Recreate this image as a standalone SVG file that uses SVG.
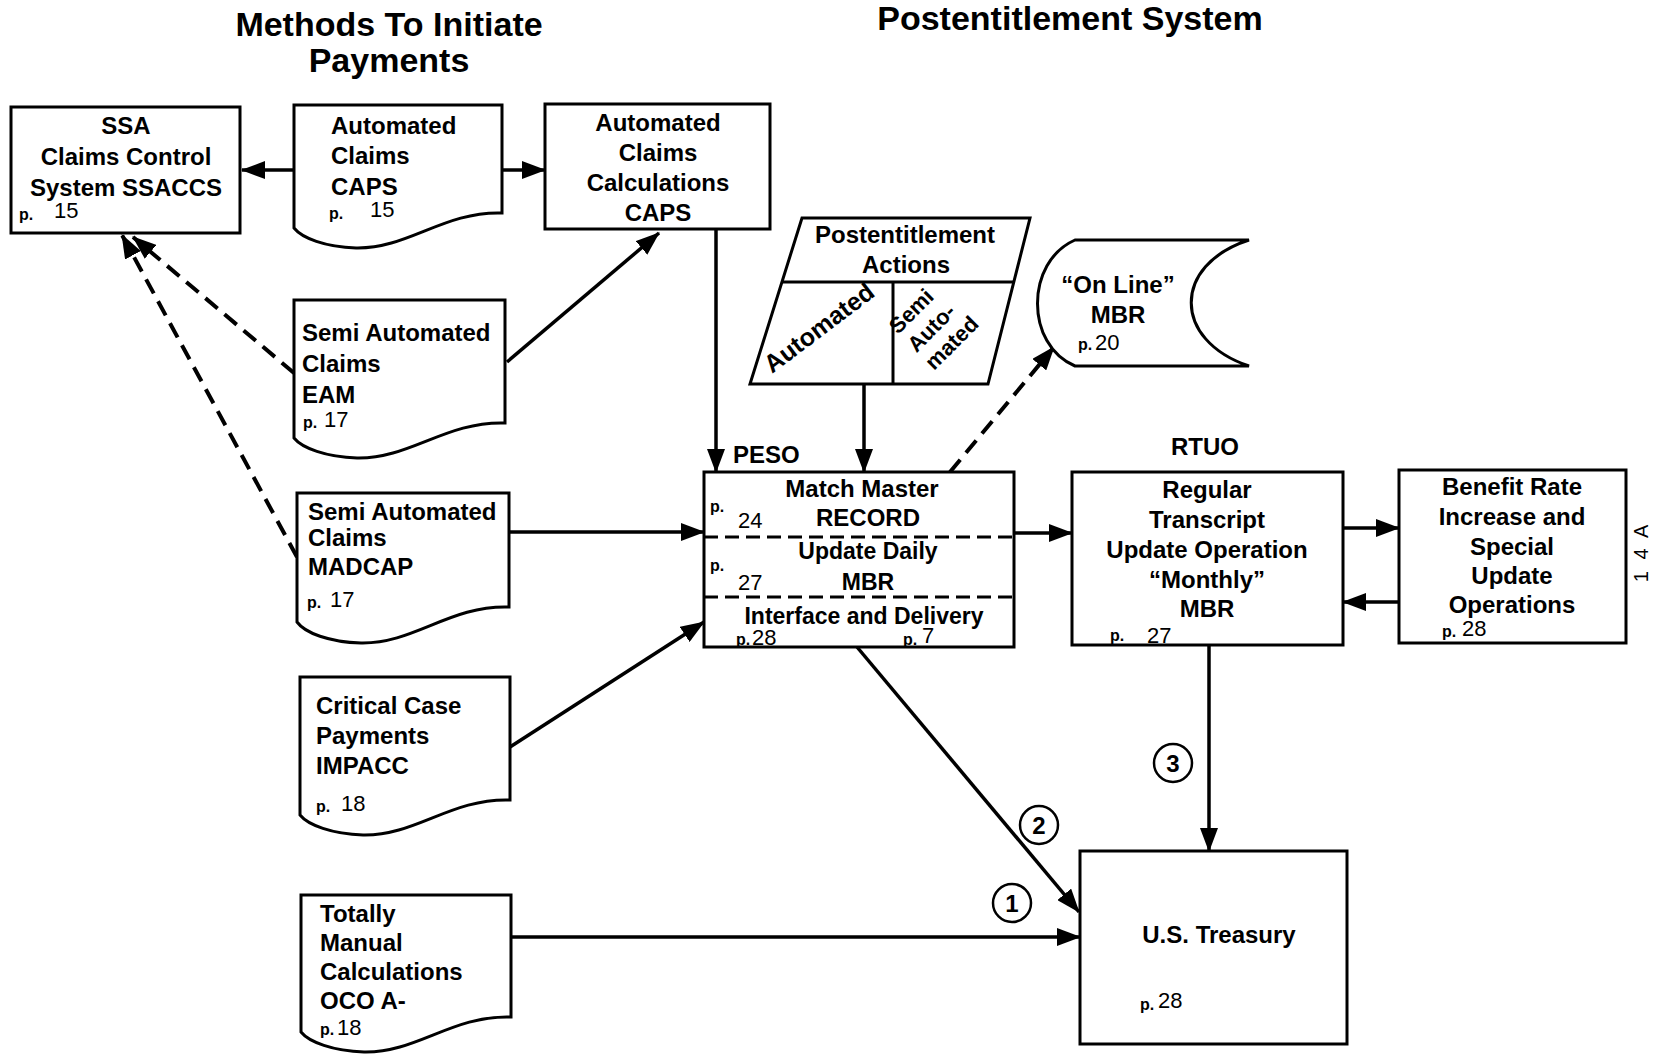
<svg xmlns="http://www.w3.org/2000/svg" width="1663" height="1055" viewBox="0 0 1663 1055">
<style>
  .bg{fill:#fff}
  .box{fill:#fff;stroke:#000;stroke-width:3}
  .t{font-family:"Liberation Sans",Arial,sans-serif;font-weight:bold;font-size:24px;fill:#000}
  .c{text-anchor:middle}
  .title{font-family:"Liberation Sans",Arial,sans-serif;font-weight:bold;font-size:34px;fill:#000;text-anchor:middle}
  .pp{font-family:"Liberation Sans",Arial,sans-serif;font-weight:bold;font-size:16px;fill:#000}
  .num{font-family:"Liberation Sans",Arial,sans-serif;font-weight:normal;font-size:22px;fill:#000}
  .ln{fill:none;stroke:#000;stroke-width:3.5}
  .dash{fill:none;stroke:#000;stroke-width:4;stroke-dasharray:16 9}
  .div{fill:none;stroke:#000;stroke-width:3;stroke-dasharray:14 7}
  .circ{fill:none;stroke:#000;stroke-width:2.5}
</style>
<defs>
  <marker id="ah" markerUnits="userSpaceOnUse" markerWidth="24" markerHeight="18" refX="23" refY="9" orient="auto">
    <path d="M0,0 L24,9 L0,18 Z" fill="#000"/>
  </marker>
</defs>
<rect class="bg" x="0" y="0" width="1663" height="1055"/>

<g id="titles">
  <text class="title" x="389" y="36">Methods To Initiate</text>
  <text class="title" x="389" y="72">Payments</text>
  <text class="title" x="1070" y="30">Postentitlement System</text>
</g>

<g id="connectors">
  <line class="ln" x1="294" y1="170" x2="242" y2="170" marker-end="url(#ah)"/>
  <line class="ln" x1="502" y1="170" x2="545" y2="170" marker-end="url(#ah)"/>
  <line class="ln" x1="716" y1="229" x2="716" y2="472" marker-end="url(#ah)"/>
  <line class="ln" x1="507" y1="362" x2="659" y2="233" marker-end="url(#ah)"/>
  <line class="dash" x1="294" y1="373" x2="133" y2="237" marker-end="url(#ah)"/>
  <line class="dash" x1="297" y1="557" x2="122" y2="235" marker-end="url(#ah)"/>
  <line class="ln" x1="509" y1="532" x2="704" y2="532" marker-end="url(#ah)"/>
  <line class="ln" x1="510" y1="747" x2="704" y2="622" marker-end="url(#ah)"/>
  <line class="ln" x1="511" y1="937" x2="1080" y2="937" marker-end="url(#ah)"/>
  <line class="ln" x1="864" y1="384" x2="864" y2="472" marker-end="url(#ah)"/>
  <line class="dash" x1="950" y1="472" x2="1054" y2="347" marker-end="url(#ah)"/>
  <line class="ln" x1="1014" y1="533" x2="1072" y2="533" marker-end="url(#ah)"/>
  <line class="ln" x1="1343" y1="528" x2="1399" y2="528" marker-end="url(#ah)"/>
  <line class="ln" x1="1399" y1="602" x2="1343" y2="602" marker-end="url(#ah)"/>
  <line class="ln" x1="857" y1="647" x2="1079" y2="912" marker-end="url(#ah)"/>
  <line class="ln" x1="1209" y1="645" x2="1209" y2="851" marker-end="url(#ah)"/>
  <g id="label-1"><circle class="circ" cx="1012" cy="903" r="19"/><text class="t c" x="1012" y="912">1</text></g>
  <g id="label-2"><circle class="circ" cx="1039" cy="825" r="19"/><text class="t c" x="1039" y="834">2</text></g>
  <g id="label-3"><circle class="circ" cx="1173" cy="763" r="19"/><text class="t c" x="1173" y="772">3</text></g>
</g>

<g id="ssaccs">
  <rect class="box" x="11" y="107" width="229" height="126"/>
  <text class="t c" x="126" y="134">SSA</text>
  <text class="t c" x="126" y="165">Claims Control</text>
  <text class="t c" x="126" y="196">System SSACCS</text>
  <text class="pp" x="19" y="220">p.</text><text class="num" x="54" y="218">15</text>
</g>

<g id="automated-claims">
  <path class="box" d="M294,105 H502 V213 C444,211 408,249 356,248 C325,247 302,238 294,228 Z"/>
  <text class="t" x="331" y="134">Automated</text>
  <text class="t" x="331" y="164">Claims</text>
  <text class="t" x="331" y="195">CAPS</text>
  <text class="pp" x="329" y="219">p.</text><text class="num" x="370" y="217">15</text>
</g>

<g id="claims-calculations">
  <rect class="box" x="545" y="104" width="225" height="125"/>
  <text class="t c" x="658" y="131">Automated</text>
  <text class="t c" x="658" y="161">Claims</text>
  <text class="t c" x="658" y="191">Calculations</text>
  <text class="t c" x="658" y="221">CAPS</text>
</g>

<g id="eam">
  <path class="box" d="M294,300 H505 V423 C446,421 410,459 357,458 C326,457 302,448 294,438 Z"/>
  <text class="t" x="302" y="341">Semi Automated</text>
  <text class="t" x="302" y="372">Claims</text>
  <text class="t" x="302" y="403">EAM</text>
  <text class="pp" x="303" y="428">p.</text><text class="num" x="324" y="427">17</text>
</g>

<g id="madcap">
  <path class="box" d="M297,493 H509 V607 C450,605 414,644 361,643 C329,642 305,633 297,622 Z"/>
  <text class="t" x="308" y="520">Semi Automated</text>
  <text class="t" x="308" y="546">Claims</text>
  <text class="t" x="308" y="575">MADCAP</text>
  <text class="pp" x="307" y="608">p.</text><text class="num" x="330" y="607">17</text>
</g>

<g id="impacc">
  <path class="box" d="M300,677 H510 V800 C451,798 416,836 363,835 C332,834 308,825 300,815 Z"/>
  <text class="t" x="316" y="714">Critical Case</text>
  <text class="t" x="316" y="744">Payments</text>
  <text class="t" x="316" y="774">IMPACC</text>
  <text class="pp" x="316" y="812">p.</text><text class="num" x="341" y="811">18</text>
</g>

<g id="totally-manual">
  <path class="box" d="M301,895 H511 V1017 C452,1015 417,1053 364,1052 C333,1051 309,1042 301,1032 Z"/>
  <text class="t" x="320" y="922">Totally</text>
  <text class="t" x="320" y="951">Manual</text>
  <text class="t" x="320" y="980">Calculations</text>
  <text class="t" x="320" y="1009">OCO A-</text>
  <text class="pp" x="320" y="1035">p.</text><text class="num" x="337" y="1035">18</text>
</g>

<g id="postentitlement-actions">
  <path class="box" d="M802,218 L1030,218 L988,384 L750,384 Z"/>
  <line class="ln" x1="782" y1="282" x2="1014" y2="282" style="stroke-width:3"/>
  <line class="ln" x1="893" y1="282" x2="893" y2="384" style="stroke-width:3"/>
  <text class="t c" x="905" y="243">Postentitlement</text>
  <text class="t c" x="906" y="273">Actions</text>
  <text class="t" transform="translate(772,374) rotate(-37)" style="font-size:25px">Automated</text>
  <g transform="translate(898,335) rotate(-45)">
    <text class="t" x="0" y="0" style="font-size:22px">Semi</text>
    <text class="t" x="0" y="26" style="font-size:22px">Auto-</text>
    <text class="t" x="0" y="51" style="font-size:22px">mated</text>
  </g>
</g>

<g id="online-mbr">
  <path class="box" d="M1075,240 H1249 C1172,265 1172,340 1249,366 H1075 C1025,345 1025,262 1075,240 Z"/>
  <text class="t c" x="1118" y="293">“On Line”</text>
  <text class="t c" x="1118" y="323">MBR</text>
  <text class="pp" x="1078" y="350">p.</text><text class="num" x="1095" y="350">20</text>
</g>

<g id="peso">
  <text class="t" x="733" y="463">PESO</text>
  <rect class="box" x="704" y="472" width="310" height="175"/>
  <line class="div" x1="704" y1="537" x2="1014" y2="537"/>
  <line class="div" x1="704" y1="597" x2="1014" y2="597"/>
  <text class="t c" x="862" y="497">Match Master</text>
  <text class="pp" x="710" y="512">p.</text><text class="num" x="738" y="528">24</text>
  <text class="t c" x="868" y="526">RECORD</text>
  <text class="t c" x="868" y="559" style="font-size:23px">Update Daily</text>
  <text class="pp" x="710" y="571">p.</text><text class="num" x="738" y="590">27</text>
  <text class="t c" x="868" y="590" style="font-size:23px">MBR</text>
  <text class="t c" x="864" y="624" style="font-size:23px">Interface and Delivery</text>
  <text class="pp" x="736" y="645">p.</text><text class="num" x="752" y="645">28</text>
  <text class="pp" x="903" y="645">p.</text><text class="num" x="922" y="643">7</text>
</g>

<g id="rtuo">
  <text class="t c" x="1205" y="455">RTUO</text>
  <rect class="box" x="1072" y="472" width="271" height="173"/>
  <text class="t c" x="1207" y="498">Regular</text>
  <text class="t c" x="1207" y="528">Transcript</text>
  <text class="t c" x="1207" y="558">Update Operation</text>
  <text class="t c" x="1207" y="588">“Monthly”</text>
  <text class="t c" x="1207" y="617">MBR</text>
  <text class="pp" x="1110" y="641">p.</text><text class="num" x="1147" y="643">27</text>
</g>

<g id="benefit-rate">
  <rect class="box" x="1399" y="470" width="227" height="173"/>
  <text class="t c" x="1512" y="495">Benefit Rate</text>
  <text class="t c" x="1512" y="525">Increase and</text>
  <text class="t c" x="1512" y="555">Special</text>
  <text class="t c" x="1512" y="584">Update</text>
  <text class="t c" x="1512" y="613">Operations</text>
  <text class="pp" x="1442" y="637">p.</text><text class="num" x="1462" y="636">28</text>
</g>

<g id="treasury">
  <rect class="box" x="1080" y="851" width="267" height="193"/>
  <text class="t c" x="1219" y="943">U.S. Treasury</text>
  <text class="pp" x="1140" y="1010">p.</text><text class="num" x="1158" y="1008">28</text>
</g>

<text class="num" transform="translate(1648,552) rotate(-90)" style="font-size:20px;text-anchor:middle;letter-spacing:3px">1 4 A</text>
</svg>
